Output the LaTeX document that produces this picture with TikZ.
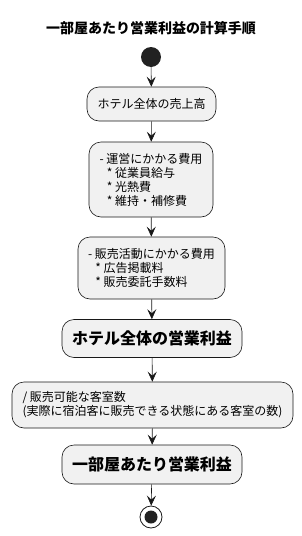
\documentclass[tikz,border=0pt]{standalone}
\usepackage{fontspec}
\setmainfont{Noto Sans CJK JP}
\usetikzlibrary{arrows.meta}
\definecolor{boxfill}{HTML}{F1F1F1}
\definecolor{ink}{HTML}{181818}
\definecolor{dot}{HTML}{222222}
\begin{document}
\begin{tikzpicture}[x=1pt,y=-1pt,
  step box/.style={draw=ink,line width=0.6pt,rounded corners=12pt,fill=boxfill,inner sep=0pt,text=black},
  big box/.style={step box,font=\fontsize{16}{18}\selectfont\bfseries},
  flow/.style={-{Stealth[length=10pt,width=9pt,inset=4pt]},draw=ink,line width=0.6pt},
  font=\fontsize{12}{14}\selectfont]
\useasboundingbox (0,0) rectangle (302,536);
\node[font=\fontsize{14}{16}\selectfont\bfseries] (title) at (151,28) {一部屋あたり営業利益の計算手順};
\node[circle,fill=dot,minimum size=20pt,inner sep=0pt] (start) at (151,57) {};
\node[step box,minimum width=129pt,minimum height=34pt] (sales) at (151.5,104) {ホテル全体の売上高};
\node[step box,minimum width=124pt,minimum height=75pt,align=left] (opcost) at (151,179.5)
  {- 運営にかかる費用\\\hspace*{0.6em}* 従業員給与\\\hspace*{0.6em}* 光熱費\\\hspace*{0.6em}* 維持・補修費};
\node[step box,minimum width=147pt,minimum height=62pt,align=left] (salescost) at (151.5,268)
  {- 販売活動にかかる費用\\\hspace*{0.6em}* 広告掲載料\\\hspace*{0.6em}* 販売委託手数料};
\node[big box,minimum width=180pt,minimum height=38pt] (profit) at (152,338.5) {ホテル全体の営業利益};
\node[step box,minimum width=281pt,minimum height=46pt,align=left] (rooms) at (152.5,405)
  {/ 販売可能な客室数\\(実際に宿泊客に販売できる状態にある客室の数)};
\node[big box,minimum width=180pt,minimum height=39pt] (perroom) at (152,464.5) {一部屋あたり営業利益};
\node[circle,draw=ink,line width=0.8pt,minimum size=22pt,inner sep=0pt] (stop) at (151,517) {};
\node[circle,fill=dot,minimum size=13pt,inner sep=0pt] at (stop) {};
% flow of the calculation
\draw[flow] (start) -- (sales);
\draw[flow] (sales) -- (opcost);
\draw[flow] (opcost) -- (salescost);
\draw[flow] (salescost) -- (profit);
\draw[flow] (profit) -- (rooms);
\draw[flow] (rooms) -- (perroom);
\draw[flow] (perroom) -- (stop);
\end{tikzpicture}
\end{document}
